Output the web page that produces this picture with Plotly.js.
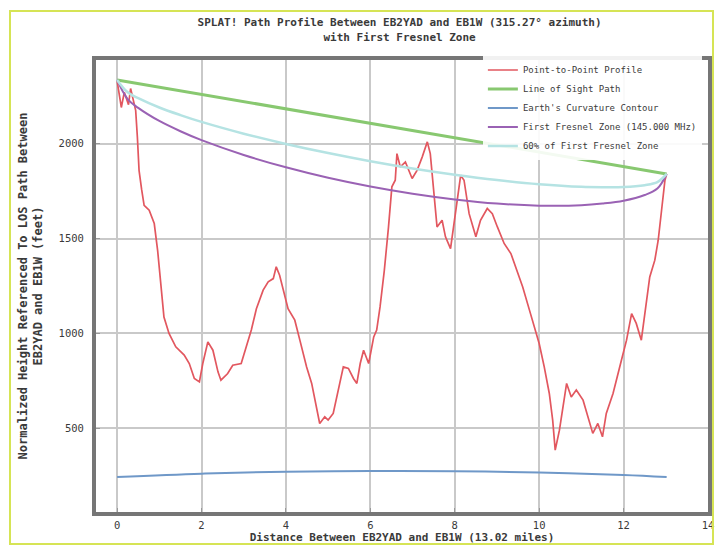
<!DOCTYPE html>
<html>
<head>
<meta charset="utf-8">
<script src="https://cdn.plot.ly/plotly-3.0.1.min.js"></script>
<style>
  html, body { margin: 0; padding: 0; background: #ffffff; }
  #wrap { position: relative; width: 720px; height: 551px; }
  #chart { width: 720px; height: 551px; }
  #frame { position: absolute; left: 9px; top: 10px; width: 705px; height: 535px;
           border: 2px solid #d6e455; pointer-events: none; box-sizing: border-box; }
</style>
</head>
<body>
<div id="wrap">
  <div id="chart"></div>
  <div id="frame"></div>
</div>
<script>
// ---- Data ----
const profileX = [0.00,0.05,0.10,0.17,0.22,0.27,0.32,0.38,0.44,0.48,0.52,0.58,0.64,0.76,0.88,0.96,1.04,1.11,1.23,1.39,1.59,1.71,1.83,1.95,2.03,2.15,2.27,2.39,2.46,2.62,2.74,2.94,3.06,3.18,3.30,3.46,3.58,3.70,3.77,3.85,4.05,4.21,4.33,4.49,4.61,4.73,4.80,4.92,5.00,5.12,5.24,5.36,5.48,5.60,5.68,5.76,5.84,5.96,6.08,6.15,6.23,6.33,6.43,6.51,6.59,6.63,6.71,6.83,6.99,7.11,7.23,7.35,7.42,7.50,7.58,7.70,7.78,7.90,8.02,8.14,8.22,8.34,8.50,8.61,8.77,8.89,9.01,9.17,9.33,9.49,9.61,9.77,9.89,10.00,10.12,10.24,10.32,10.38,10.48,10.56,10.65,10.76,10.88,11.04,11.15,11.27,11.39,11.50,11.59,11.75,11.95,12.07,12.19,12.30,12.42,12.50,12.62,12.74,12.82,12.90,12.98,13.02];
const profileY = [2330,2250,2190,2270,2240,2205,2290,2230,2175,2035,1859,1760,1675,1649,1579,1438,1263,1087,1000,930,886,842,763,745,842,956,912,798,754,789,833,842,930,1018,1130,1228,1272,1289,1351,1307,1130,1070,965,824,737,614,526,561,544,579,702,824,816,763,737,842,912,842,982,1018,1140,1330,1560,1772,1807,1947,1877,1903,1816,1860,1930,2009,1947,1737,1561,1596,1509,1447,1631,1833,1807,1631,1509,1596,1658,1631,1561,1474,1421,1316,1245,1123,1035,947,824,684,544,386,491,614,737,666,702,649,561,474,526,456,579,684,860,965,1105,1053,965,1105,1298,1386,1491,1649,1807,1840];

const losX = [0, 13.02];
const losY = [2335, 1840];

const earthX = [0, 2, 4, 6, 8, 10, 12, 13.02];
const earthY = [244, 262, 272, 276, 275, 268, 255, 244];

const fresnelX = [0, 0.25, 0.5, 1, 1.5, 2, 3, 4, 5, 6, 7, 8, 9, 10, 11, 11.5, 12, 12.5, 12.8, 13.02];
const fresnelY = [2335, 2234, 2188, 2119, 2065, 2018, 1940, 1875, 1820, 1774, 1736, 1706, 1684, 1673, 1675, 1684, 1699, 1729, 1763, 1840];
const fresnel60Y = [2335, 2270, 2239, 2190, 2150, 2114, 2052, 1998, 1950, 1907, 1869, 1836, 1808, 1786, 1772, 1770, 1771, 1781, 1797, 1840];

const xTicks = [0, 2, 4, 6, 8, 10, 12, 14];
const yTicks = [500, 1000, 1500, 2000];

const names = ["Point-to-Point Profile", "Line of Sight Path", "Earth's Curvature Contour",
               "First Fresnel Zone (145.000 MHz)", "60% of First Fresnel Zone"];

// ---- Chart ----
const F = "DejaVu Sans Mono, monospace";
const C = "#3a3a3a";
const traces = [
  {x: profileX, y: profileY, name: names[0], mode: "lines", line: {color: "#e2575f", width: 1.7}},
  {x: losX, y: losY, name: names[1], mode: "lines", line: {color: "#88c870", width: 3}},
  {x: earthX, y: earthY, name: names[2], mode: "lines", line: {color: "#6f98c8", width: 2, shape: "spline"}},
  {x: fresnelX, y: fresnelY, name: names[3], mode: "lines", line: {color: "#9a62b4", width: 2, shape: "spline"}},
  {x: fresnelX, y: fresnel60Y, name: names[4], mode: "lines", line: {color: "#b5e3e3", width: 2.5, shape: "spline"}}
];

const layout = {
  width: 720, height: 551,
  margin: {l: 96, r: 12, t: 60, b: 39},
  paper_bgcolor: "#ffffff",
  plot_bgcolor: "#ffffff",
  font: {family: F, size: 10, color: C},
  title: {
    text: "<b>SPLAT! Path Profile Between EB2YAD and EB1W (315.27° azimuth)<br>with First Fresnel Zone</b>",
    font: {family: F, size: 11, color: C},
    x: 0.555, xanchor: "center", y: 0.952, yanchor: "top"
  },
  xaxis: {
    range: [-0.5, 14],
    tickvals: xTicks,
    ticktext: xTicks.map(String),
    showgrid: true, gridcolor: "#c9c9c9", gridwidth: 2,
    zeroline: false,
    showline: true, mirror: true, linecolor: "#767676", linewidth: 4,
    ticks: "inside", ticklen: 4, tickcolor: "#999999",
    ticklabelstandoff: 0,
    tickfont: {family: F, size: 10.5, color: C},
    title: {text: "<b>Distance Between EB2YAD and EB1W (13.02 miles)</b>", font: {family: F, size: 11, color: C}, standoff: 0}
  },
  yaxis: {
    range: [60, 2440],
    tickvals: yTicks,
    ticktext: yTicks.map(String),
    showgrid: true, gridcolor: "#c9c9c9", gridwidth: 2,
    zeroline: false,
    showline: true, mirror: true, linecolor: "#767676", linewidth: 4,
    ticks: "inside", ticklen: 4, tickcolor: "#999999",
    ticklabelstandoff: 6,
    tickfont: {family: F, size: 10.5, color: C},
    title: {text: "<b>Normalized Height Referenced To LOS Path Between<br>EB2YAD and EB1W (feet)</b>", font: {family: F, size: 12, color: C}, standoff: 14}
  },
  showlegend: true,
  legend: {
    x: 0.99, xanchor: "right", y: 1.01, yanchor: "top",
    bgcolor: "rgba(255,255,255,0.9)",
    font: {family: F, size: 9, color: C},
    tracegroupgap: 0, itemwidth: 30
  }
};

Plotly.newPlot("chart", traces, layout, {displayModeBar: false, staticPlot: true});
</script>
</body>
</html>
